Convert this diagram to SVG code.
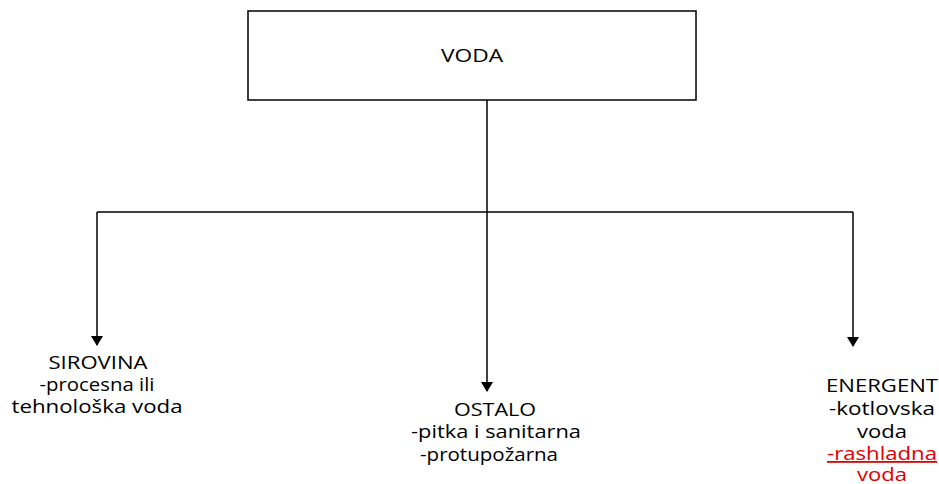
<svg xmlns="http://www.w3.org/2000/svg" width="939" height="484" viewBox="0 0 939 484">
<style>
.t{font-family:"Open Sans","Noto Sans","Liberation Sans",sans-serif;font-size:18px;fill:#000;text-anchor:middle}
.r{fill:#e00000}
.c{stroke:#000;stroke-width:1.5;fill:none}
</style>
<defs>
<marker id="a" markerWidth="10" markerHeight="12" refX="9" refY="6" orient="auto" markerUnits="userSpaceOnUse" viewBox="0 0 10 12">
<path d="M0,0L10,6L0,12z" fill="#000"/>
</marker>
</defs>
<rect width="939" height="484" fill="#fff"/>
<g id="voda">
<rect x="248" y="11" width="448" height="89" fill="#fff" stroke="#000" stroke-width="1.5"/>
<text class="t" x="472" y="62" textLength="62" lengthAdjust="spacingAndGlyphs">VODA</text>
</g>
<g id="connectors">
<path class="c" d="M487,100V212M97,212H853"/>
<path class="c" d="M97,212V345" marker-end="url(#a)"/>
<path class="c" d="M487,212V391" marker-end="url(#a)"/>
<path class="c" d="M853,212V346" marker-end="url(#a)"/>
</g>
<g id="sirovina">
<text class="t" x="98" y="369" textLength="99" lengthAdjust="spacingAndGlyphs">SIROVINA</text>
<text class="t" x="97" y="391" textLength="115" lengthAdjust="spacingAndGlyphs">-procesna ili</text>
<text class="t" x="97" y="413" textLength="171" lengthAdjust="spacingAndGlyphs">tehnološka voda</text>
</g>
<g id="ostalo">
<text class="t" x="495" y="416" textLength="82" lengthAdjust="spacingAndGlyphs">OSTALO</text>
<text class="t" x="496" y="438" textLength="170" lengthAdjust="spacingAndGlyphs">-pitka i sanitarna</text>
<text class="t" x="489" y="461" textLength="138" lengthAdjust="spacingAndGlyphs">-protupožarna</text>
</g>
<g id="energent">
<text class="t" x="882" y="392" textLength="112" lengthAdjust="spacingAndGlyphs">ENERGENT</text>
<text class="t" x="882" y="415" textLength="106" lengthAdjust="spacingAndGlyphs">-kotlovska</text>
<text class="t" x="882" y="438" textLength="50" lengthAdjust="spacingAndGlyphs">voda</text>
<text class="t r" x="882" y="460" textLength="110" lengthAdjust="spacingAndGlyphs" text-decoration="underline">-rashladna</text>
<text class="t r" x="882" y="481" textLength="50" lengthAdjust="spacingAndGlyphs">voda</text>
</g>
</svg>
